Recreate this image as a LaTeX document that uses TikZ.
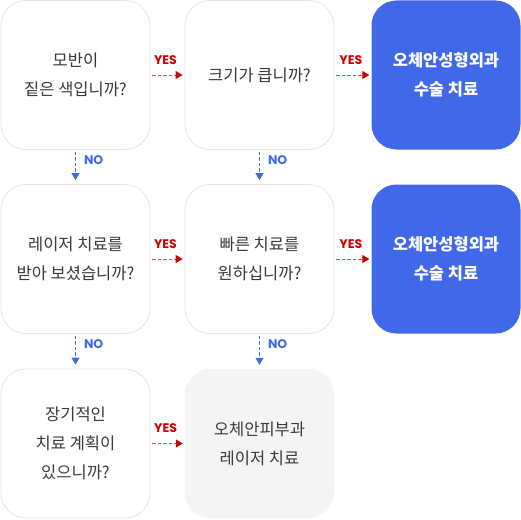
\documentclass[tikz,border=0pt]{standalone}
\usepackage{fontspec}
\setmainfont{Noto Sans CJK KR}
\newfontfamily\labfont{Poppins}
\usetikzlibrary{arrows.meta}
\definecolor{txt}{HTML}{3A3A3A}
\definecolor{bord}{HTML}{E4E4E4}
\definecolor{graybox}{HTML}{F4F4F4}
\definecolor{bluebox}{HTML}{4068E8}
\definecolor{yesdark}{HTML}{CC0000}
\definecolor{yeslight}{HTML}{E05555}
\definecolor{noblue}{HTML}{4068E8}
\tikzset{
  box/.style={minimum width=149pt, minimum height=149pt, rounded corners=25pt, align=center, inner sep=0pt,
    font=\fontsize{16.5}{29}\selectfont, text=txt},
  qbox/.style={box, draw=bord, line width=0.8pt, fill=white},
  gbox/.style={box, fill=graybox},
  bbox/.style={box, fill=bluebox, text=white, font=\fontsize{16.5}{29}\selectfont\bfseries},
  yesarrow/.style={draw=yeslight, line width=1pt, dash pattern=on 3.5pt off 2pt,
    -{Triangle[length=7pt,width=8pt,color=yesdark,fill=yesdark]}, shorten <=2pt, shorten >=2pt},
  noarrow/.style={draw=noblue, line width=1pt, dash pattern=on 3.5pt off 2pt,
    -{Triangle[length=7pt,width=8pt,color=noblue,fill=noblue]}, shorten <=2pt, shorten >=4pt},
  yeslab/.style={font=\labfont\bfseries\fontsize{12.5}{14}\selectfont, text=yesdark, inner sep=0pt},
  nolab/.style={font=\labfont\bfseries\fontsize{12.5}{14}\selectfont, text=noblue, inner sep=0pt, anchor=west},
}
\begin{document}
\begin{tikzpicture}[x=1pt,y=-1pt]
\useasboundingbox (0,0) rectangle (521,519);
\node[qbox] (q1) at (75.5,75) {모반이\\짙은 색입니까?};
\node[qbox] (q2) at (259.5,75) {크기가 큽니까?};
\node[bbox] (s1) at (446,75) {오체안성형외과\\수술 치료};
\node[qbox] (q3) at (75.5,259) {레이저 치료를\\받아 보셨습니까?};
\node[qbox] (q4) at (259.5,259) {빠른 치료를\\원하십니까?};
\node[bbox] (s2) at (446,259) {오체안성형외과\\수술 치료};
\node[qbox] (q5) at (75.5,443.5) {장기적인\\치료 계획이\\있으니까?};
\node[gbox] (s3) at (259.5,443.5) {오체안피부과\\레이저 치료};

\draw[yesarrow] (q1.east) -- (q2.west) node[yeslab, midway, yshift=15pt, xshift=-2pt] {YES};
\draw[yesarrow] (q2.east) -- (s1.west) node[yeslab, midway, yshift=15pt, xshift=-2pt] {YES};
\draw[yesarrow] (q3.east) -- (q4.west) node[yeslab, midway, yshift=15pt, xshift=-2pt] {YES};
\draw[yesarrow] (q4.east) -- (s2.west) node[yeslab, midway, yshift=15pt, xshift=-2pt] {YES};
\draw[yesarrow] (q5.east) -- (s3.west) node[yeslab, midway, yshift=15pt, xshift=-2pt] {YES};

\draw[noarrow] (q1.south) -- (q3.north) node[nolab, pos=0.3, xshift=8pt] {NO};
\draw[noarrow] (q2.south) -- (q4.north) node[nolab, pos=0.3, xshift=8pt] {NO};
\draw[noarrow] (q3.south) -- (q5.north) node[nolab, pos=0.3, xshift=8pt] {NO};
\draw[noarrow] (q4.south) -- (s3.north) node[nolab, pos=0.3, xshift=8pt] {NO};
\end{tikzpicture}
\end{document}
